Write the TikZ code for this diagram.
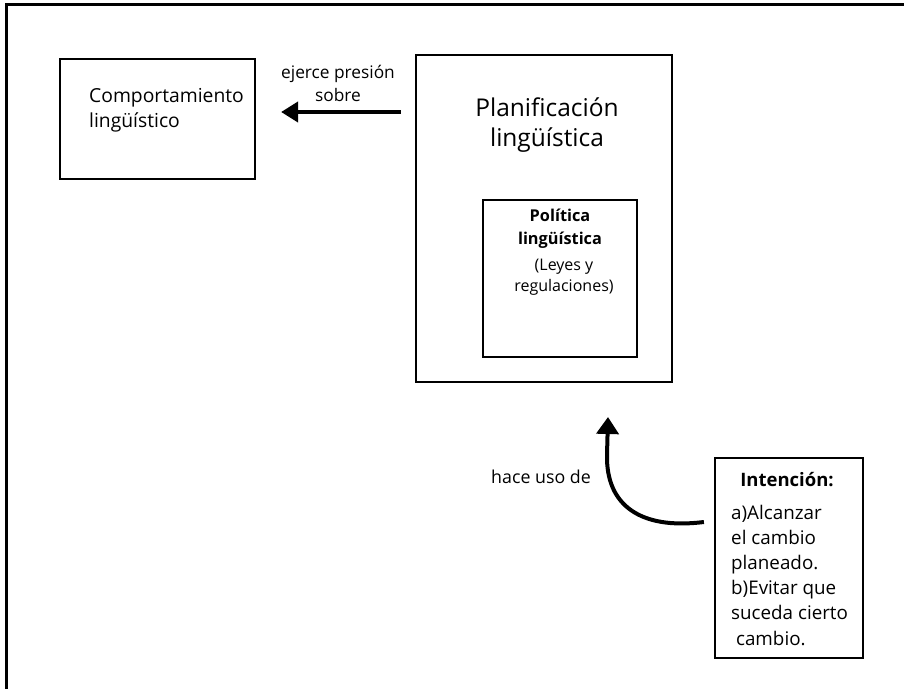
\documentclass[tikz,border=0pt]{standalone}
\usepackage{fontspec}
\setmainfont{Open Sans}
\usetikzlibrary{arrows.meta}
\begin{document}
\begin{tikzpicture}[x=1pt,y=-1pt,
  box/.style={draw=black,line width=2.2pt,minimum width=#1,inner sep=0pt},
  txt/.style={inner sep=0pt,text=black},
  bigarrow/.style={line width=4pt,-{Triangle[width=20pt,length=17pt]}},
]
\useasboundingbox (0,0) rectangle (904,688);
\draw[line width=3pt] (6,4) rectangle (912,698);
% boxes
\node[box=195pt,minimum height=120pt] (comp) at (157.5,119) {};
\node[box=256pt,minimum height=327pt] (plan) at (544,218.5) {};
\node[box=154pt,minimum height=157pt] (pol) at (560,278.5) {};
\node[box=148pt,minimum height=200pt] (int) at (789,558) {};
% texts
\node[txt,anchor=west,align=left,font=\fontsize{19.3}{25}\selectfont] (comptxt) at (89,110) {Comportamiento\\lingüístico};
\node[txt,align=center,font=\fontsize{24.5}{30}\selectfont] (plantxt) at (547,125) {Planificación\\lingüística};
\node[txt,align=center,font=\fontsize{16.3}{23}\selectfont\bfseries] (poltxt) at (560,228.5) {Política\\lingüística};
\node[txt,align=center,font=\fontsize{16}{20.5}\selectfont] (leyes) at (564,277) {(Leyes y\\regulaciones)};
\node[txt,align=center,font=\fontsize{17.3}{23}\selectfont] (ejerce) at (338,83.5) {ejerce presión\\sobre};
\node[txt,anchor=east,font=\fontsize{17.8}{20}\selectfont] (hace) at (591,477) {hace uso de};
\node[txt,font=\fontsize{18.5}{20}\selectfont\bfseries] (inttit) at (787,480) {Intención:};
\node[txt,anchor=west,align=left,font=\fontsize{18.8}{25.2}\selectfont] (intbody) at (731,575) {a)Alcanzar\\el cambio\\planeado.\\b)Evitar que\\suceda cierto\\\ cambio.};
% connectors
\coordinate (a1) at ([xshift=-14pt]plan.west |- 0,112);
\coordinate (a2) at ([xshift=25pt]comp.east |- 0,112);
\draw[bigarrow] (a1) -- (a2);
\coordinate (c1) at ([xshift=-10pt]int.west |- 0,522);
\coordinate (c2) at ([xshift=64pt]plan.south |- 0,417);
\draw[line width=4pt,-{Triangle[width=22pt,length=17pt]}] (c1) .. controls (640,530) and (606,505) .. (607,455) -- (c2);
\end{tikzpicture}
\end{document}
